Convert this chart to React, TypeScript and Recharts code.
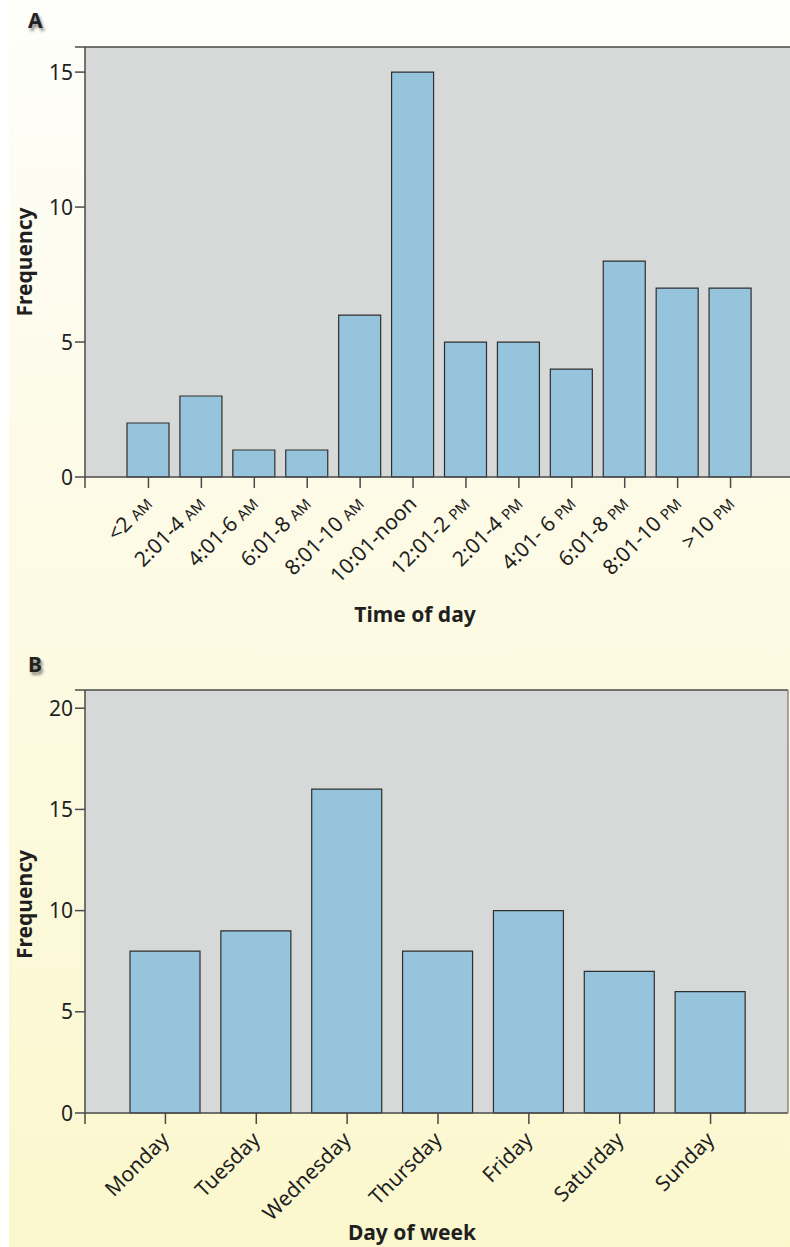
import React from 'react';
import { BarChart, Bar, XAxis, YAxis, CartesianGrid, ReferenceLine } from 'recharts';

// Panel A: time of day
const timeLabels = [
  '<2 AM', '2:01-4 AM', '4:01-6 AM', '6:01-8 AM', '8:01-10 AM', '10:01-noon',
  '12:01-2 PM', '2:01-4 PM', '4:01- 6 PM', '6:01-8 PM', '8:01-10 PM', '>10 PM',
];
const timeCounts = [2, 3, 1, 1, 6, 15, 5, 5, 4, 8, 7, 7];
const timeTicks = [0, 5, 10, 15];
const timeMax = 15.93;

// Panel B: day of week
const dayLabels = ['Monday', 'Tuesday', 'Wednesday', 'Thursday', 'Friday', 'Saturday', 'Sunday'];
const dayCounts = [8, 9, 16, 8, 10, 7, 6];
const dayTicks = [0, 5, 10, 15, 20];
const dayMax = 20.9;

const timeData = timeLabels.map((label, i) => ({ label, count: timeCounts[i] }));
const dayData = dayLabels.map((label, i) => ({ label, count: dayCounts[i] }));

const FONT = '"Noto Sans", "Open Sans", sans-serif';
const INK = '#1f1f1f';
const AXIS = '#4a4a4a';
const BAR = '#96c4dd';
const PLOT_BG = '#d7d8d8';

const YTick = (props: any) => {
  const { x, y, payload, labels } = props;
  const v = payload.value;
  return (
    <g>
      {v === 0 && <line x1={x + 12} x2={x + 12} y1={y} y2={y + 11} stroke={AXIS} strokeWidth={1.5} />}
      {labels.includes(v) && (
        <text x={x} y={y} dy="0.36em" textAnchor="end" fontSize={21} fill={INK} fontFamily={FONT}>
          {v}
        </text>
      )}
    </g>
  );
};

const XTick = (props: any) => {
  const { x, y, payload } = props;
  const text: string = payload.value;
  const m = text.match(/^(.*) (AM|PM)$/);
  return (
    <text
      transform={`translate(${x + 5},${y + 15}) rotate(-45)`}
      textAnchor="end"
      fontSize={21}
      fill={INK}
      fontFamily={FONT}
    >
      {m ? (
        <>
          {m[1]} <tspan fontSize={15}>{m[2]}</tspan>
        </>
      ) : (
        text
      )}
    </text>
  );
};

const yTitle = (cy: number) => (p: any) => {
  const vb = p.viewBox;
  const cx = vb.x + 24;
  const c = vb.y + vb.height / 2 + cy;
  return (
    <text
      x={cx}
      y={c}
      transform={`rotate(-90, ${cx}, ${c})`}
      textAnchor="middle"
      dominantBaseline="central"
      fontSize={21}
      fontWeight="bold"
      fill={INK}
      fontFamily={FONT}
    >
      Frequency
    </text>
  );
};

const xTitle = (value: string, cx: number, fromBottom: number) => (p: any) => {
  const vb = p.viewBox;
  return (
    <text
      x={cx}
      y={vb.y + vb.height - fromBottom}
      textAnchor="middle"
      fontSize={21}
      fontWeight="bold"
      fill={INK}
      fontFamily={FONT}
    >
      {value}
    </text>
  );
};

const panelLetter: React.CSSProperties = {
  position: 'absolute',
  fontFamily: FONT,
  fontWeight: 'bold',
  fontSize: 21,
  color: '#222',
  textShadow: '2px 3px 3px rgba(0,0,0,0.45)',
};

export default function App() {
  return (
    <div
      style={{
        position: 'absolute',
        left: 0,
        top: 0,
        width: 790,
        height: 1247,
        background: '#ffffff',
        overflow: 'hidden',
      }}
    >
      <div
        style={{
          position: 'absolute',
          left: 9,
          top: 0,
          width: 781,
          height: 1247,
          background: 'linear-gradient(to bottom, #fefefb 0%, #fdfbe8 35%, #fdfae2 55%, #fcf9d9 75%, #fbf7cd 100%)',
        }}
      />
      <div style={{ ...panelLetter, left: 28, top: 6 }}>A</div>
      <div style={{ ...panelLetter, left: 28, top: 650 }}>B</div>

      <div style={{ position: 'absolute', left: 0, top: 0 }}>
        <BarChart width={790} height={640} data={timeData} margin={{ top: 47, right: 0, bottom: 0, left: 0 }}>
          <CartesianGrid horizontal={false} vertical={false} fill={PLOT_BG} stroke="none" />
          <ReferenceLine y={timeMax} stroke={AXIS} strokeWidth={1.5} />
          <XAxis
            dataKey="label"
            interval={0}
            height={163}
            tickSize={11}
            padding={{ left: 37, right: 33 }}
            axisLine={{ stroke: AXIS, strokeWidth: 1.5 }}
            tickLine={{ stroke: AXIS, strokeWidth: 1.5 }}
            tick={<XTick />}
            label={{ content: xTitle('Time of day', 415, 18) }}
          />
          <YAxis
            width={85}
            domain={[0, timeMax]}
            ticks={[...timeTicks, timeMax]}
            interval={0}
            tickSize={10}
            tickMargin={2}
            axisLine={{ stroke: AXIS, strokeWidth: 1.5 }}
            tickLine={{ stroke: AXIS, strokeWidth: 1.5 }}
            tick={<YTick labels={timeTicks} />}
            label={{ content: yTitle(0) }}
          />
          <Bar dataKey="count" fill={BAR} stroke="#2e2e2e" strokeWidth={1.2} barSize={42} isAnimationActive={false} />
        </BarChart>
      </div>

      <div style={{ position: 'absolute', left: 0, top: 640 }}>
        <BarChart width={790} height={607} data={dayData} margin={{ top: 50, right: 0, bottom: 0, left: 0 }}>
          <CartesianGrid horizontal={false} vertical={false} fill={PLOT_BG} stroke="none" />
          <ReferenceLine y={dayMax} stroke={AXIS} strokeWidth={1.5} />
          <XAxis
            dataKey="label"
            interval={0}
            height={134}
            tickSize={11}
            padding={{ left: 35, right: 32 }}
            axisLine={{ stroke: AXIS, strokeWidth: 1.5 }}
            tickLine={{ stroke: AXIS, strokeWidth: 1.5 }}
            tick={<XTick />}
            label={{ content: xTitle('Day of week', 412, 7) }}
          />
          <YAxis
            width={85}
            domain={[0, dayMax]}
            ticks={[...dayTicks, dayMax]}
            interval={0}
            tickSize={10}
            tickMargin={2}
            axisLine={{ stroke: AXIS, strokeWidth: 1.5 }}
            tickLine={{ stroke: AXIS, strokeWidth: 1.5 }}
            tick={<YTick labels={dayTicks} />}
            label={{ content: yTitle(3) }}
          />
          <YAxis
            yAxisId="r"
            orientation="right"
            width={2}
            tick={false}
            tickLine={false}
            axisLine={{ stroke: '#8a8a8a', strokeWidth: 1.5 }}
          />
          <Bar dataKey="count" fill={BAR} stroke="#2e2e2e" strokeWidth={1.2} barSize={70} isAnimationActive={false} />
        </BarChart>
      </div>
    </div>
  );
}
